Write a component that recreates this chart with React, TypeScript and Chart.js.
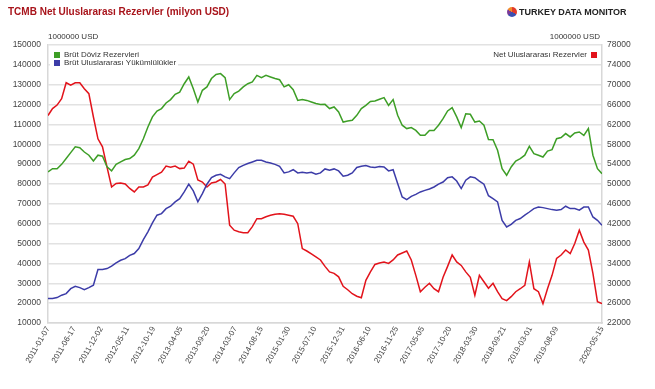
import React, { useEffect, useRef } from "react";
import { Chart, registerables } from "chart.js";
Chart.register(...registerables);

const START_DATE = "2011-01-07";
const STEP_DAYS = 28;

const X_TICK_LABELS = [
  "2011-01-07", "2011-06-17", "2011-12-02", "2012-05-11", "2012-10-19", "2013-04-05",
  "2013-09-20", "2014-03-07", "2014-08-15", "2015-01-30", "2015-07-10", "2015-12-31",
  "2016-06-10", "2016-11-25", "2017-05-05", "2017-10-20", "2018-03-30", "2018-09-21",
  "2019-03-01", "2019-08-09", "2020-05-15",
];

// Brüt Döviz Rezervleri (left axis), every 4 weeks
const GROSS_FX = [
  86100, 87700, 87700, 89900, 92800, 95800, 98700, 98300, 96100, 94500, 91600, 94500, 94000,
  88600, 86600, 89900, 91100, 92300, 92800, 94500, 97800, 102800, 108700, 113800, 116700,
  118000, 120800, 122500, 125200, 126300, 130500, 133900, 128000, 121300, 127200, 128900, 133100,
  135200, 135600, 133600, 122500, 125500, 126800, 128900, 130500, 131400, 134700, 133600, 134700,
  133900, 133100, 132500, 128900, 130000, 127500, 122100, 122500, 122100, 121300, 120500, 120000,
  120100, 118000, 118800, 116300, 111200, 111700, 112100, 114600, 118000, 119600, 121600, 121800, 122700,
  123500, 119600, 122500, 114600, 109600, 107900, 108400, 107000, 104500, 104500, 107000, 107000,
  109600, 112900, 116800, 118500, 113800, 108400, 115400, 115100, 111200, 111700, 109600, 102400,
  102300, 97000, 87700, 84400, 88600, 91600, 92800, 94500, 99000, 95300, 94500, 93600, 96600,
  97300, 102800, 103400, 105400, 103700, 105700, 106200, 104500, 107900, 94500, 87700, 85200,
];

// Brüt Uluslararası Yükümlülükler (left axis)
const GROSS_LIAB = [
  22300, 22300, 22800, 24000, 24800, 27300, 28500, 27800, 26800, 27800, 29000, 36900, 36900,
  37400, 38600, 40300, 41600, 42400, 44100, 45000, 47500, 52000, 55900, 60400, 64300,
  65100, 67600, 68800, 71000, 72600, 76000, 79900, 76500, 71000, 75200, 79900, 83200,
  84400, 84900, 83600, 82700, 85600, 88300, 89400, 90300, 91100, 91900, 91900, 91100,
  90600, 89900, 88900, 85600, 86100, 87200, 85600, 85900, 85600, 85900, 84900, 85600,
  87600, 86900, 87600, 86600, 83900, 84400, 85600, 88300, 88900, 89300, 88600, 88300, 88800,
  88600, 86600, 87200, 80200, 73500, 72100, 73800, 74800, 76000, 76800, 77500, 78500,
  79900, 81000, 83200, 83600, 81500, 77700, 81900, 83600, 83200, 81500, 79900, 74100,
  72600, 71000, 61700, 58400, 59700, 61700, 62600, 64300, 65900, 67600, 68400, 68100, 67600,
  67100, 66800, 67100, 68800, 67600, 67600, 66800, 68400, 68400, 63400, 61700, 59200,
];

// Net Uluslararası Rezervler (right axis)
const NET_RES = [
  63800, 65200, 65900, 67200, 70400, 69900, 70400, 70400, 69200, 68200, 63500, 59100, 57500,
  53400, 49400, 50100, 50200, 50000, 49100, 48400, 49400, 49400, 49800, 51400, 51900,
  52400, 53600, 53400, 53600, 53100, 53200, 54600, 54000, 50800, 50400, 49400, 50200,
  50400, 50900, 50000, 41700, 40700, 40400, 40200, 40200, 41400, 43000, 43000, 43400,
  43700, 43900, 44000, 43900, 43700, 43500, 42000, 37000, 36500, 35900, 35300, 34700,
  33400, 32300, 32000, 31300, 29400, 28700, 27900, 27400, 27100, 30600, 32300, 33800, 34100,
  34300, 34000, 34700, 35700, 36100, 36500, 34700, 31600, 28300, 29200, 30000, 28900,
  28300, 31200, 33400, 35700, 34300, 33600, 32300, 31200, 27600, 31600, 30300, 29000,
  30000, 28300, 26900, 26500, 27300, 28300, 28900, 29600, 34300, 28900, 28300, 25900, 28900,
  31600, 35000, 35700, 36700, 36000, 38000, 40700, 38300, 36700, 32000, 26300, 25900,
];

const LEFT_AXIS = { min: 10000, max: 150000, step: 10000 };
const RIGHT_AXIS = { min: 22000, max: 78000, step: 4000 };

const SERIES_NAMES = ["Brüt Döviz Rezervleri", "Brüt Uluslararası Yükümlülükler", "Net Uluslararası Rezervler"];
const COLORS = ["#3d9e26", "#3c3ca8", "#e2131b"];
const UNIT_LABEL = "1000000 USD";
const TITLE = "TCMB Net Uluslararası Rezervler (milyon USD)";
const LOGO_TEXT = "TURKEY DATA MONITOR";

const dayOf = (s: string) => (Date.parse(s) - Date.parse(START_DATE)) / 86400000;
const toPoints = (arr: number[]) => arr.map((v, i) => ({ x: i * STEP_DAYS, y: v }));

const FONT = "'Liberation Sans', Arial, sans-serif";

const overlayPlugin = {
  id: "overlay",
  beforeDatasetsDraw(chart: any) {
    const { ctx, chartArea } = chart;
    const { left, right, top } = chartArea;
    ctx.save();
    ctx.font = `8px ${FONT}`;
    ctx.textBaseline = "middle";
    ctx.fillStyle = "#ffffff";
    ctx.fillRect(left + 2, top + 3, 128, 21);
    ctx.fillRect(right - 112, top + 3, 110, 12);
    [0, 1].forEach((k) => {
      const y = top + 10 + k * 8;
      ctx.fillStyle = COLORS[k];
      ctx.fillRect(left + 6, y - 3, 6, 6);
      ctx.fillStyle = "#333333";
      ctx.textAlign = "left";
      ctx.fillText(SERIES_NAMES[k], left + 16, y);
    });
    const yr = top + 10;
    ctx.fillStyle = COLORS[2];
    ctx.fillRect(right - 11, yr - 3, 6, 6);
    ctx.fillStyle = "#333333";
    ctx.textAlign = "right";
    ctx.fillText(SERIES_NAMES[2], right - 15, yr);
    ctx.textAlign = "left";
    ctx.fillText(UNIT_LABEL, left, top - 8);
    ctx.textAlign = "right";
    ctx.fillText(UNIT_LABEL, right - 2, top - 8);
    ctx.restore();
  },
};

export default function App() {
  const ref = useRef<HTMLCanvasElement | null>(null);
  useEffect(() => {
    document.body.style.margin = "0";
    if (!ref.current) return;
    const tickDays = X_TICK_LABELS.map(dayOf);
    const labelByDay = new Map<number, string>();
    X_TICK_LABELS.forEach((l, i) => labelByDay.set(Math.round(tickDays[i]), l));
    const chart = new Chart(ref.current, {
      type: "line",
      data: {
        datasets: [
          { label: SERIES_NAMES[0], data: toPoints(GROSS_FX), borderColor: COLORS[0], yAxisID: "y" },
          { label: SERIES_NAMES[1], data: toPoints(GROSS_LIAB), borderColor: COLORS[1], yAxisID: "y" },
          { label: SERIES_NAMES[2], data: toPoints(NET_RES), borderColor: COLORS[2], yAxisID: "y1" },
        ].map((d) => ({ ...d, borderWidth: 1.5, pointRadius: 0, tension: 0, fill: false })),
      },
      options: {
        animation: false,
        responsive: false,
        maintainAspectRatio: false,
        layout: { padding: { top: 45, left: 0, right: 0, bottom: 0 } },
        plugins: { legend: { display: false }, tooltip: { enabled: false }, title: { display: false } },
        scales: {
          x: {
            type: "linear",
            min: 0,
            max: (NET_RES.length - 1) * STEP_DAYS,
            grid: { display: false, drawTicks: false },
            border: { color: "#d8d8d8", width: 1.5 },
            afterBuildTicks: (scale: any) => {
              scale.ticks = tickDays.map((v) => ({ value: v }));
            },
            afterFit: (scale: any) => {
              scale.height = 66;
            },
            ticks: {
              autoSkip: false,
              minRotation: 60,
              maxRotation: 60,
              padding: 2,
              color: "#444444",
              font: { size: 8, family: FONT },
              callback: (v: any) => labelByDay.get(Math.round(Number(v))) ?? "",
            },
          },
          y: {
            position: "left",
            min: LEFT_AXIS.min,
            max: LEFT_AXIS.max,
            grid: { color: "#e2e2e2", lineWidth: 1.5, drawTicks: false },
            border: { color: "#d8d8d8", width: 1.5 },
            afterFit: (scale: any) => {
              scale.width = 48;
            },
            ticks: {
              stepSize: LEFT_AXIS.step,
              padding: 7,
              color: "#444444",
              font: { size: 8.5, family: FONT },
              callback: (v: any) => String(v),
            },
          },
          y1: {
            position: "right",
            min: RIGHT_AXIS.min,
            max: RIGHT_AXIS.max,
            grid: { drawOnChartArea: false, drawTicks: false },
            border: { color: "#d8d8d8", width: 1.5 },
            afterFit: (scale: any) => {
              scale.width = 53;
            },
            ticks: {
              stepSize: RIGHT_AXIS.step,
              padding: 5,
              color: "#444444",
              font: { size: 8.5, family: FONT },
              callback: (v: any) => String(v),
            },
          },
        },
      } as any,
      plugins: [overlayPlugin],
    });
    return () => chart.destroy();
  }, []);

  return (
    <div style={{ position: "relative", width: 655, height: 389, background: "#fff", overflow: "hidden" }}>
      <canvas ref={ref} width={655} height={389} style={{ position: "absolute", left: 0, top: 0, width: 655, height: 389 }} />
      <div
        style={{
          position: "absolute",
          left: 8,
          top: 5,
          fontFamily: FONT,
          fontWeight: "bold",
          fontSize: 10,
          color: "#a8141b",
          whiteSpace: "nowrap",
          lineHeight: "14px",
        }}
      >
        {TITLE}
      </div>
      <div style={{ position: "absolute", left: 507, top: 6, display: "flex", alignItems: "center", whiteSpace: "nowrap" }}>
        <div
          style={{
            width: 10,
            height: 10,
            borderRadius: "50%",
            background: "conic-gradient(#e23a2a 0deg 120deg, #3b4fb0 120deg 230deg, #7a3a98 230deg 300deg, #f08a2a 300deg 360deg)",
            marginRight: 2,
          }}
        />
        <span style={{ fontFamily: FONT, fontWeight: "bold", fontSize: 9, color: "#222", lineHeight: "12px" }}>
          {LOGO_TEXT}
        </span>
      </div>
    </div>
  );
}
